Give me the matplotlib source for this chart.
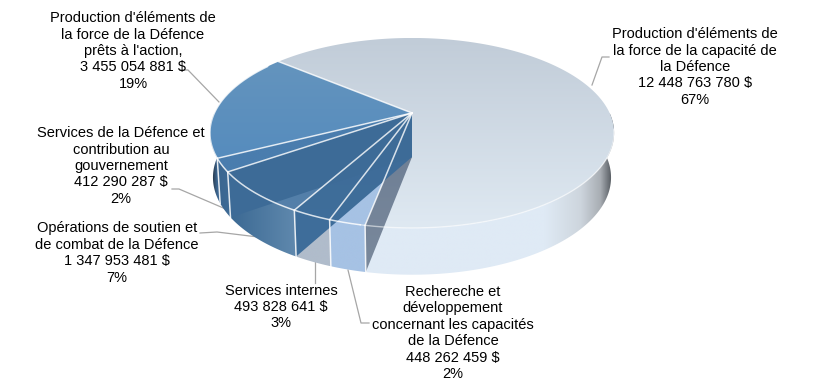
import numpy as np
import matplotlib
matplotlib.use('Agg')
import matplotlib.pyplot as plt
from matplotlib.colors import LinearSegmentedColormap
from matplotlib.patches import Polygon

plt.rcParams['font.family'] = ['Liberation Sans', 'DejaVu Sans']

names = [
    "Production d'éléments de\nla force de la capacité de\nla Défence",
    "Rechereche et\ndéveloppement\nconcernant les capacités\nde la Défence",
    "Services internes",
    "Opérations de soutien et\nde combat de la Défence",
    "Services de la Défence et\ncontribution au\ngouvernement",
    "Production d'éléments de\nla force de la Défence\nprêts à l'action,",
]
values = [12448763780, 448262459, 493828641, 1347953481, 412290287, 3455054881]

top_colors = [
    ['#c1ccd8', '#dfe9f2'],
    ['#a6c2e4', '#a6c2e4'],
    ['#b0bccb', '#b0bccb'],
    ['#4a7aa6', '#5580aa'],
    ['#4a7dae', '#4a7dae'],
    ['#6494be', '#568cbd'],
]
side_colors = [
    [(0, '#dfeaf5'), (0.72, '#dfeaf5'), (0.865, '#cdd5dd'), (0.944, '#a8adb3'), (1, '#3f444a')],
    ['#a6c2e4', '#a6c2e4'],
    ['#b0bccb', '#b0bccb'],
    ['#3a6892', '#6089ae'],
    ['#3b6690', '#3e6b96'],
    [(0, '#1a2530'), (0.3, '#2b3f55'), (0.65, '#3d6690'), (1, '#3d6690')],
]
wall_colors = {0: ['#6b7c93', '#7a899c'], 2: ['#3e6c98', '#3f6e9b'], 3: ['#3d6b97', '#3e6c98']}

label_pos = [(695, 67), (453, 333), (281, 307), (117, 253), (121, 166), (133, 51)]
leaders = [
    [(592, 85), (602, 57), (609, 57)],
    [(348, 270), (361, 323), (369, 323)],
    [(315, 262), (315, 283)],
    [(200, 233), (217, 232), (258, 237)],
    [(172, 189), (179, 189), (228, 210)],
    [(180, 70), (188, 70), (219, 102)],
]

CX = 412
TOP_Y, BOT_Y = 113, 157
PERSP = 0.21


def project(ang, r=1.0, bottom=False):
    ang = np.radians(ang)
    X, Y = r * np.cos(ang), r * np.sin(ang)
    w = 1 + PERSP * Y
    if bottom:
        return CX + 194.6 * X / w, BOT_Y - 93.0 * Y / w
    return CX + 197.6 * X / w, TOP_Y - 90.8 * Y / w


def arc(a0, a1, bottom=False):
    n = max(int(abs(a1 - a0)), 2) * 2
    xs, ys = project(np.linspace(a0, a1, n), bottom=bottom)
    return np.column_stack([xs, ys])


def fill(ax, pts, stops, horizontal=False, z=1):
    pts = np.asarray(pts)
    poly = Polygon(pts, closed=True, fc='none', ec='none', transform=ax.transData)
    ax.add_patch(poly)
    x0, y0 = pts.min(axis=0)
    x1, y1 = pts.max(axis=0)
    ramp = np.linspace(0, 1, 256)
    grad = ramp[None, :] if horizontal else ramp[:, None]
    cmap = LinearSegmentedColormap.from_list('g', stops)
    im = ax.imshow(grad, extent=(x0, x1, y1, y0), cmap=cmap, aspect='auto',
                   vmin=0, vmax=1, zorder=z, interpolation='bilinear')
    im.set_clip_path(poly)


fig = plt.figure(figsize=(8.3, 3.85), dpi=100)
ax = fig.add_axes([0, 0, 1, 1])
ax.axis('off')

fractions = np.array(values) / sum(values)
edges = 140 - np.concatenate([[0], np.cumsum(fractions)]) * 360
centre = (CX, TOP_Y)

# sides first, only the front part shows anyway
for i in range(len(values)):
    a0, a1 = edges[i], edges[i + 1]
    if i == 0:
        a0 = 0
    if i == 5:
        a1 = -180
    pts = np.vstack([arc(a0, a1), arc(a1, a0, bottom=True)])
    fill(ax, pts, side_colors[i], horizontal=True, z=1)

# top surfaces
for i in range(len(values)):
    pts = np.vstack([[centre], arc(edges[i], edges[i + 1])])
    fill(ax, pts, top_colors[i], z=2)

# inner walls show through because the pie is translucent
for i, stops in wall_colors.items():
    a = edges[i + 1]
    tx, ty = project(a)
    bx, by = project(a, bottom=True)
    pts = [centre, (CX, BOT_Y), (bx, by), (tx, ty)]
    fill(ax, pts, stops, z=3)

# white edges
for a in edges[:-1]:
    tx, ty = project(a)
    ax.plot([CX, tx], [TOP_Y, ty], color='white', lw=1.1, alpha=0.8, zorder=5)
    if -190 < a < -90:
        bx, by = project(a, bottom=True)
        ax.plot([tx, bx], [ty, by], color='white', lw=1.1, alpha=0.85, zorder=5)
front = arc(-102, -215)
ax.plot(front[:, 0], front[:, 1], color='white', lw=1.1, alpha=0.8, zorder=5)
front = arc(-10, -102)
ax.plot(front[:, 0], front[:, 1], color='white', lw=1.0, alpha=0.55, zorder=5)

for line in leaders:
    xs, ys = zip(*line)
    ax.plot(xs, ys, color='#a6a6a6', lw=0.9, zorder=0)

for name, val, frac, (x, y) in zip(names, values, fractions, label_pos):
    txt = name + '\n' + f'{val:,}'.replace(',', ' ') + ' $\n' + f'{round(frac * 100)}%'
    ax.text(x, y, txt, ha='center', va='center', fontsize=10.5, color='black',
            linespacing=1.22, zorder=6)

ax.set_xlim(0, 830)
ax.set_ylim(385, 0)
fig.savefig('out.png', dpi=100)
